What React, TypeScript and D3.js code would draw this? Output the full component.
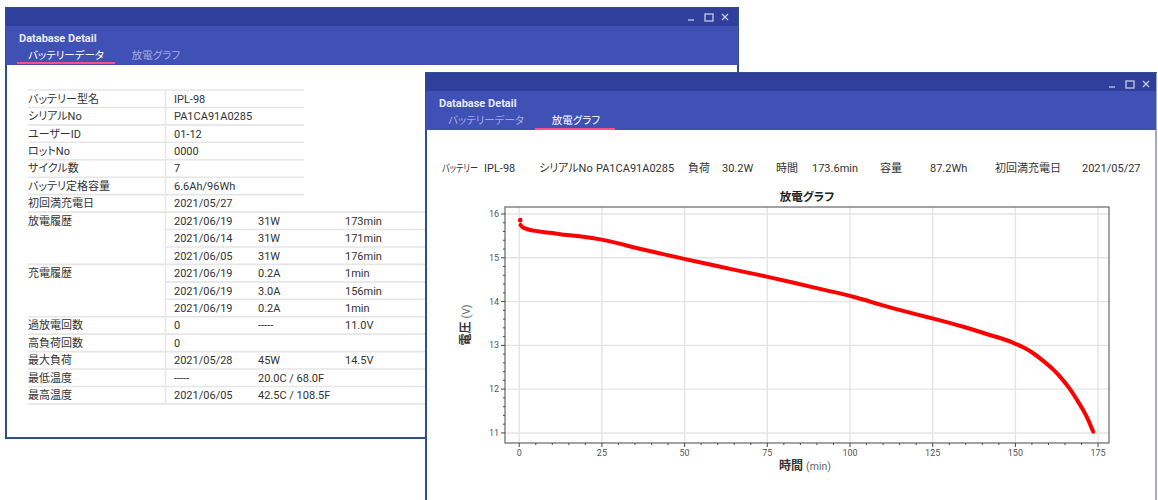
import React from 'react';
import * as d3 from 'd3';

// discharge curve
const timeMin = [0.3, 0.4, 1, 1.8, 3, 4.3, 7, 9.4, 14.4, 19.4, 24.5, 30, 34.5, 42, 50.2, 57, 64.8, 74.8, 83, 90.9, 101, 111, 121, 125.2, 134, 141.3, 149.3, 152.5, 155.4, 158.5, 161.4, 164, 166.5, 168.5, 170.5, 172, 173.5];
const voltage = [15.86, 15.75, 15.7, 15.67, 15.64, 15.62, 15.59, 15.57, 15.52, 15.48, 15.42, 15.33, 15.24, 15.11, 14.97, 14.86, 14.73, 14.57, 14.43, 14.29, 14.11, 13.89, 13.69, 13.61, 13.43, 13.26, 13.06, 12.95, 12.82, 12.64, 12.45, 12.24, 12.0, 11.77, 11.52, 11.3, 11.03];

const xTicks = [0, 25, 50, 75, 100, 125, 150, 175];
const yTicks = [11, 12, 13, 14, 15, 16];

// battery data table
const rowLabels = ['バッテリー型名', 'シリアルNo', 'ユーザーID', 'ロットNo', 'サイクル数', 'バッテリ定格容量', '初回満充電日', '放電履歴', '', '', '充電履歴', '', '', '過放電回数', '高負荷回数', '最大負荷', '最低温度', '最高温度'];
const col2 = ['IPL-98', 'PA1CA91A0285', '01-12', '0000', '7', '6.6Ah/96Wh', '2021/05/27', '2021/06/19', '2021/06/14', '2021/06/05', '2021/06/19', '2021/06/19', '2021/06/19', '0', '0', '2021/05/28', '-----', '2021/06/05'];
const col3 = ['', '', '', '', '', '', '', '31W', '31W', '31W', '0.2A', '3.0A', '0.2A', '-----', '', '45W', '20.0C / 68.0F', '42.5C / 108.5F'];
const col4 = ['', '', '', '', '', '', '', '173min', '171min', '176min', '1min', '156min', '1min', '11.0V', '', '14.5V', '', ''];

// summary line above the graph
const infoLabels = ['バッテリー', 'シリアルNo', '負荷', '時間', '容量', '初回満充電日'];
const infoValues = ['IPL-98', 'PA1CA91A0285', '30.2W', '173.6min', '87.2Wh', '2021/05/27'];
const infoLabelX = [442, 539, 688, 776, 880, 995];
const infoValueX = [484, 596, 722, 812, 930, 1082];

const FONT = "Roboto, 'Noto Sans CJK JP', sans-serif";
const BAR = '#2f3f9b';
const HEAD = '#3f51b5';
const TAB_OFF = '#a4acdd';
const PINK = '#ff4f8b';
const TXT = '#333';

const WinControls: React.FC<{ x: number; y: number }> = ({ x, y }) => (
  <g stroke="#c5cae9" fill="none" strokeWidth={1.3}>
    <line x1={x - 3} x2={x + 3} y1={y + 3} y2={y + 3} />
    <rect x={x + 14} y={y - 3} width={8} height={7} />
    <line x1={x + 31} x2={x + 37} y1={y - 3} y2={y + 3} />
    <line x1={x + 37} x2={x + 31} y1={y - 3} y2={y + 3} />
  </g>
);

const Header: React.FC<{ x: number; y: number; w: number; active: number }> = ({ x, y, w, active }) => (
  <g fontFamily={FONT}>
    <rect x={x} y={y} width={w} height={19} fill={BAR} />
    <rect x={x} y={y + 18} width={w} height={39} fill={HEAD} />
    <text x={x + 13} y={y + 34} fill="#e8eaf6" fontSize={11} fontWeight={700}>Database Detail</text>
    <text x={x + 60} y={y + 51} fill={active === 0 ? '#fff' : TAB_OFF} fontSize={10.5} textAnchor="middle">バッテリーデータ</text>
    <text x={x + 150} y={y + 51} fill={active === 1 ? '#fff' : TAB_OFF} fontSize={10.5} textAnchor="middle">放電グラフ</text>
    {active === 0
      ? <rect x={x + 11} y={y + 54} width={98} height={2} fill={PINK} />
      : <rect x={x + 109} y={y + 55} width={80} height={2} fill={PINK} />}
  </g>
);

export default function App() {
  const W = 1158;
  const H = 500;

  // back window
  const bx = 6, by = 8, bw = 732, bh = 430;
  const tableTop = 90;
  const rowH = 17.44;

  // chart frame
  const plot = { left: 505, top: 207, right: 1109, bottom: 443 };
  const x = d3.scaleLinear().domain([-4.3, 178.3]).range([plot.left, plot.right]);
  const y = d3.scaleLinear().domain([10.77, 16.16]).range([plot.bottom, plot.top]);
  const xMinor = d3.range(0, 180, 5).filter(v => v % 25 !== 0);
  const yMinor = d3.range(11, 16.01, 0.2).map(v => +v.toFixed(1)).filter(v => Math.abs(v - Math.round(v)) > 0.01);

  const pts = timeMin.map((t, i) => [t, voltage[i]] as [number, number]);
  const line = d3.line<[number, number]>()
    .x(d => x(d[0]))
    .y(d => y(d[1]))
    .curve(d3.curveMonotoneX);

  return (
    <svg width={W} height={H} style={{ position: 'absolute', left: 0, top: 0, fontFeatureSettings: '"palt"' }} fontFamily={FONT}>
      <rect width={W} height={H} fill="#fff" />

      {/* back window: battery data */}
      <rect x={bx} y={by} width={bw} height={bh} fill="#fff" stroke="#2d4f8f" strokeWidth={2} />
      <Header x={bx} y={by} w={bw} active={0} />
      <WinControls x={bx + 685} y={by + 9} />

      <g fontSize={11} fill={TXT}>
        {d3.range(rowLabels.length + 1).map(i => {
          const yy = tableTop + i * rowH;
          const cont = i < rowLabels.length && rowLabels[i] === '';
          const x2 = i < 7 ? 304 : 426;
          return <line key={'l' + i} x1={cont ? 165 : 28} x2={x2} y1={yy} y2={yy} stroke="#e6e6e6" strokeWidth={1.6} />;
        })}
        <line x1={165.5} x2={165.5} y1={tableTop} y2={tableTop + rowLabels.length * rowH} stroke="#e6e6e6" strokeWidth={1.6} />
        {rowLabels.map((lab, i) => {
          const cy = tableTop + (i + 0.5) * rowH + 4;
          return (
            <g key={'r' + i}>
              <text x={28} y={cy}>{lab}</text>
              <text x={174} y={cy}>{col2[i]}</text>
              <text x={258} y={cy}>{col3[i]}</text>
              <text x={345} y={cy}>{col4[i]}</text>
            </g>
          );
        })}
      </g>

      {/* front window: discharge graph */}
      <rect x={426} y={73} width={730} height={440} fill="#fff" stroke="#2d4f8f" strokeWidth={2} />
      <line x1={1156} x2={1156} y1={73} y2={500} stroke="#c8ccd6" strokeWidth={1.5} />
      <Header x={426} y={73} w={730} active={1} />
      <WinControls x={1112} y={84} />

      <g fontSize={11} fill={TXT}>
        {infoLabels.map((lab, i) => (
          <g key={'i' + i}>
            {i === 0
              ? <text x={infoLabelX[i]} y={172} fontSize={10.5} textLength={36} lengthAdjust="spacingAndGlyphs">{lab}</text>
              : <text x={infoLabelX[i]} y={172}>{lab}</text>}
            <text x={infoValueX[i]} y={172}>{infoValues[i]}</text>
          </g>
        ))}
      </g>

      <text x={(plot.left + plot.right) / 2} y={201} textAnchor="middle" fontSize={11.5} fontWeight={700} fill="#222">放電グラフ</text>

      {/* grid */}
      <g stroke="#e4e4e4" strokeWidth={1.4}>
        {xTicks.map(t => <line key={'gx' + t} x1={x(t)} x2={x(t)} y1={plot.top} y2={plot.bottom} />)}
        {yTicks.map(t => <line key={'gy' + t} x1={plot.left} x2={plot.right} y1={y(t)} y2={y(t)} />)}
      </g>

      {/* curve */}
      <path d={line(pts.slice(1)) || ''} fill="none" stroke="#ff0000" strokeWidth={4} strokeLinejoin="round" strokeLinecap="round" />
      <circle cx={x(pts[0][0])} cy={y(pts[0][1])} r={2.3} fill="#ff0000" />

      {/* frame + ticks */}
      <rect x={plot.left} y={plot.top} width={plot.right - plot.left} height={plot.bottom - plot.top} fill="none" stroke="#666" strokeWidth={1.2} />
      <g stroke="#444" strokeWidth={1}>
        {xTicks.map(t => <line key={'tx' + t} x1={x(t)} x2={x(t)} y1={plot.bottom} y2={plot.bottom + 4} />)}
        {xMinor.map(t => <line key={'mx' + t} x1={x(t)} x2={x(t)} y1={plot.bottom} y2={plot.bottom + 2} />)}
        {yTicks.map(t => <line key={'ty' + t} x1={plot.left - 4} x2={plot.left} y1={y(t)} y2={y(t)} />)}
        {yMinor.map(t => <line key={'my' + t} x1={plot.left - 2} x2={plot.left} y1={y(t)} y2={y(t)} />)}
      </g>
      <g fontSize={9} fill="#555">
        {xTicks.map(t => <text key={'lx' + t} x={x(t)} y={456} textAnchor="middle">{t}</text>)}
        {yTicks.map(t => <text key={'ly' + t} x={plot.left - 6} y={y(t) + 3} textAnchor="end">{t}</text>)}
      </g>

      <text x={805} y={470} textAnchor="middle">
        <tspan fontSize={12} fontWeight={700} fill="#333">時間</tspan>
        <tspan fontSize={10.5} fill="#666" dx={3}>(min)</tspan>
      </text>
      <text transform={`translate(470,${(plot.top + plot.bottom) / 2}) rotate(-90)`} textAnchor="middle">
        <tspan fontSize={12} fontWeight={700} fill="#333">電圧</tspan>
        <tspan fontSize={10.5} fill="#666" dx={3}>(V)</tspan>
      </text>
    </svg>
  );
}
